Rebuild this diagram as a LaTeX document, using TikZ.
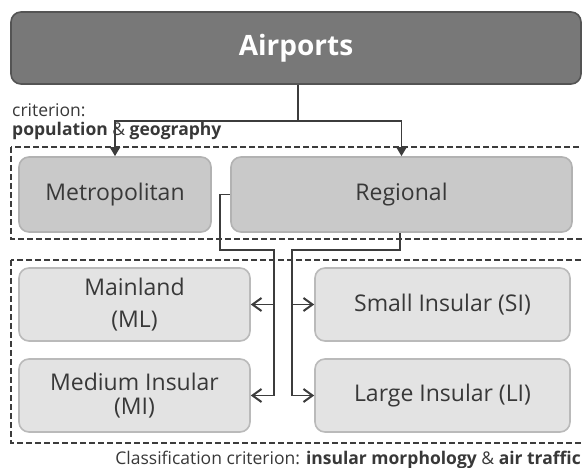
\documentclass[tikz,border=0pt]{standalone}
\usepackage{fontspec}
\setmainfont{Open Sans}
\usetikzlibrary{arrows.meta,calc}
\definecolor{txt}{HTML}{383838}
\definecolor{ln}{HTML}{3C3C3C}
\begin{document}
\begin{tikzpicture}[x=1pt,y=-1pt,
  base/.style={draw, rounded corners=10pt, line width=1.6pt, align=center, text=txt, inner sep=0pt},
  topbox/.style={base, fill=black!53, draw=black!67, text=white, font=\fontsize{28}{32}\selectfont\bfseries},
  midbox/.style={base, fill=black!21, draw=black!30, font=\fontsize{23}{27}\selectfont},
  lowbox/.style={base, fill=black!11, draw=black!27, font=\fontsize{23}{27}\selectfont},
  frame/.style={draw=ln, dash pattern=on 6pt off 3pt, line width=1.6pt},
  conn/.style={draw=ln, line width=1.9pt},
  downarr/.style={conn, -{Triangle[length=9pt,width=10pt]}},
  sidearr/.style={conn, -{Straight Barb[length=9pt,width=13pt,line width=2pt]}},
  lbl/.style={text=txt, inner sep=0pt, font=\fontsize{17.5}{21}\selectfont},
  captext/.style={text=txt, inner sep=0pt, font=\fontsize{17.5}{21}\selectfont}]
\useasboundingbox (0,0) rectangle (582,468);
% frames
\draw[frame] (11,147) rectangle (590,239);
\draw[frame] (11,260) rectangle (590,443);
% boxes
\node[topbox, minimum width=570pt, minimum height=72pt] (air) at (296,48) {Airports};
\node[midbox, minimum width=192pt, minimum height=75pt] (met) at (115,194.5) {Metropolitan};
\node[midbox, minimum width=341pt, minimum height=75pt] (reg) at (401.5,194.5) {Regional};
\node[lowbox, minimum width=231pt, minimum height=73pt] (ml) at (134.5,304.5) {Mainland\\[5pt](ML)};
\node[lowbox, minimum width=231pt, minimum height=73pt] (mi) at (134.5,395.5) {Medium Insular\\[-3pt](MI)};
\node[lowbox, minimum width=255pt, minimum height=73pt] (si) at (442.5,304.5) {Small Insular (SI)};
\node[lowbox, minimum width=255pt, minimum height=73pt] (li) at (442.5,395.5) {Large Insular (LI)};
% labels
\node[lbl, anchor=base west] (c1) at (12,117) {criterion:};
\node[lbl, anchor=base west] (c2) at (12,136) {\textbf{population} \& \textbf{geography}};
\node[captext, anchor=base east] (c3) at (581,464) {Classification criterion: \textbf{insular morphology} \& \textbf{air traffic}};
% connectors
\coordinate (J) at (298,121);
\draw[conn] (air.south -| J) -- (J);
\draw[downarr] (J) -| (met.north);
\draw[downarr] (J) -| (reg.north);
\coordinate (L) at (274,250);
\coordinate (R) at (292,250);
\draw[conn] (reg.west) -- ++(-10,0) |- (L) -- (L |- mi.east);
\draw[conn] (reg.south -| 400,0) |- (R) -- (R |- li.west);
\draw[sidearr] (L |- ml.east) -- (ml.east);
\draw[sidearr] (L |- mi.east) -- (mi.east);
\draw[sidearr] (R |- si.west) -- (si.west);
\draw[sidearr] (R |- li.west) -- (li.west);
\end{tikzpicture}
\end{document}
